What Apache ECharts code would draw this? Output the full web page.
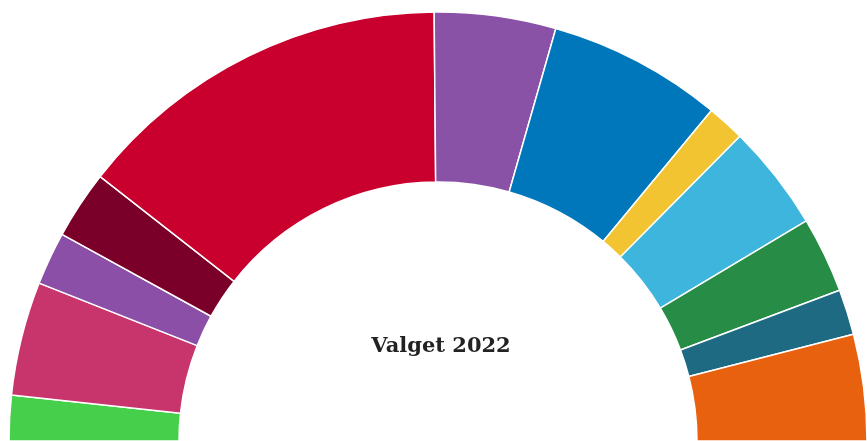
<!DOCTYPE html>
<html><head><meta charset="utf-8">
<script src="https://cdn.jsdelivr.net/npm/echarts@6/dist/echarts.min.js"></script>
<style>html,body{margin:0;padding:0;background:#fff}#c{width:867px;height:441px}</style>
</head><body><div id="c"></div>
<script>
const parties = ['Å','F','B','Ø','A','M','V','O','I','C','D','Æ'];
const seats = [6,15,7,9,50,16,23,5,14,10,6,14];
const colors = ['#45cf4a','#c8356c','#8b4fa8','#7a0029','#c9002d','#8a52a6','#0077bb','#f3c432','#3eb5dd','#268c46','#1d6a82','#e8610f'];
const title = 'Valget 2022';

const chart = echarts.init(document.getElementById('c'));
chart.setOption({
  animation: false,
  graphic: [{
    type: 'text', x: 441, y: 347,
    style: {
      text: title, textAlign: 'center', textVerticalAlign: 'middle',
      fontFamily: 'DejaVu Serif', fontWeight: 'bold', fontSize: 21, fill: '#222222'
    }
  }],
  series: [{
    type: 'pie',
    center: [438, 441],
    radius: [259, 429],
    startAngle: 180,
    endAngle: 360,
    clockwise: true,
    label: {show: false},
    labelLine: {show: false},
    emphasis: {disabled: true},
    itemStyle: {borderColor: '#ffffff', borderWidth: 1.5},
    data: parties.map((p, i) => ({name: p, value: seats[i], itemStyle: {color: colors[i]}}))
  }]
});
</script></body></html>
